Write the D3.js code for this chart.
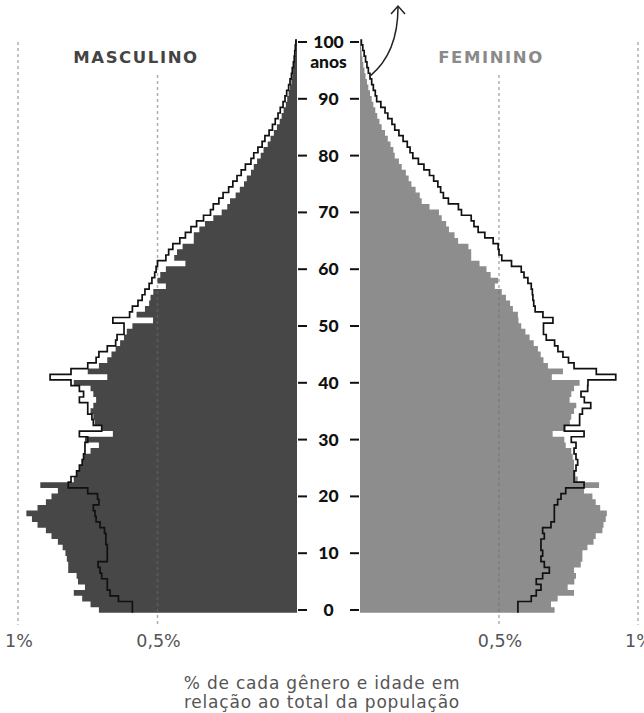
<!DOCTYPE html>
<html>
<head>
<meta charset="utf-8">
<script src="https://cdn.jsdelivr.net/npm/d3@7"></script>
<style>
  body { margin: 0; background: #fff; }
  svg { display: block; font-family: "DejaVu Sans", sans-serif; }
</style>
</head>
<body>
<div class="piramide"></div>
<script>
//Data: % of total population by single year of age (0..100)
const idades = d3.range(0, 101);

const homens = [
  0.71, 0.74, 0.77, 0.80, 0.76, 0.785, 0.79, 0.82, 0.82, 0.825,
  0.83, 0.84, 0.857, 0.88, 0.90, 0.93, 0.95, 0.97, 0.93, 0.90,
  0.88, 0.857, 0.92, 0.80, 0.79, 0.78, 0.77, 0.765, 0.74, 0.71,
  0.76, 0.66, 0.70, 0.725, 0.73, 0.74, 0.73, 0.72, 0.73, 0.74,
  0.80, 0.68, 0.75, 0.71, 0.68, 0.665, 0.65, 0.634, 0.62, 0.61,
  0.59, 0.516, 0.575, 0.545, 0.53, 0.525, 0.515, 0.47, 0.50, 0.49,
  0.47, 0.40, 0.44, 0.43, 0.41, 0.37, 0.37, 0.35, 0.33, 0.30,
  0.27, 0.25, 0.24, 0.22, 0.205, 0.19, 0.18, 0.165, 0.155, 0.143,
  0.13, 0.12, 0.105, 0.095, 0.083, 0.072, 0.062, 0.055, 0.048, 0.04,
  0.035, 0.03, 0.025, 0.02, 0.017, 0.014, 0.011, 0.008, 0.006, 0.004,
  0.003
];

const mulheres = [
  0.70, 0.687, 0.711, 0.77, 0.747, 0.771, 0.777, 0.77, 0.794, 0.80,
  0.80, 0.818, 0.84, 0.848, 0.872, 0.876, 0.884, 0.888, 0.864, 0.848,
  0.836, 0.806, 0.86, 0.783, 0.775, 0.77, 0.77, 0.765, 0.76, 0.74,
  0.735, 0.693, 0.74, 0.755, 0.76, 0.77, 0.778, 0.754, 0.76, 0.77,
  0.79, 0.69, 0.73, 0.676, 0.66, 0.65, 0.64, 0.625, 0.61, 0.595,
  0.58, 0.57, 0.568, 0.55, 0.54, 0.525, 0.51, 0.485, 0.497, 0.47,
  0.455, 0.43, 0.40, 0.40, 0.39, 0.353, 0.34, 0.32, 0.31, 0.294,
  0.284, 0.25, 0.222, 0.215, 0.20, 0.185, 0.175, 0.165, 0.15, 0.14,
  0.125, 0.12, 0.11, 0.10, 0.09, 0.078, 0.07, 0.062, 0.055, 0.048,
  0.042, 0.036, 0.03, 0.025, 0.02, 0.016, 0.012, 0.009, 0.006, 0.004,
  0.003
];

const homensContorno = [
  0.59, 0.59, 0.64, 0.67, 0.68, 0.68, 0.70, 0.706, 0.713, 0.68,
  0.68, 0.68, 0.685, 0.685, 0.69, 0.706, 0.72, 0.724, 0.73, 0.71,
  0.715, 0.75, 0.82, 0.81, 0.79, 0.78, 0.77, 0.765, 0.76, 0.76,
  0.75, 0.78, 0.70, 0.73, 0.735, 0.75, 0.75, 0.78, 0.765, 0.78,
  0.81, 0.885, 0.81, 0.75, 0.72, 0.71, 0.68, 0.65, 0.645, 0.62,
  0.62, 0.66, 0.60, 0.59, 0.57, 0.555, 0.545, 0.53, 0.52, 0.51,
  0.505, 0.50, 0.47, 0.46, 0.445, 0.42, 0.40, 0.38, 0.36, 0.335,
  0.31, 0.30, 0.28, 0.265, 0.245, 0.23, 0.215, 0.20, 0.185, 0.165,
  0.155, 0.14, 0.125, 0.115, 0.10, 0.088, 0.078, 0.068, 0.06, 0.05,
  0.043, 0.037, 0.03, 0.025, 0.02, 0.017, 0.013, 0.01, 0.008, 0.006,
  0.004
];

const mulheresContorno = [
  0.568, 0.568, 0.616, 0.634, 0.651, 0.634, 0.657, 0.681, 0.663, 0.651,
  0.657, 0.651, 0.651, 0.663, 0.657, 0.687, 0.699, 0.699, 0.699, 0.711,
  0.723, 0.74, 0.806, 0.77, 0.77, 0.777, 0.783, 0.777, 0.77, 0.777,
  0.76, 0.806, 0.735, 0.79, 0.79, 0.80, 0.83, 0.807, 0.795, 0.819,
  0.82, 0.92, 0.85, 0.77, 0.75, 0.73, 0.712, 0.70, 0.67, 0.66,
  0.66, 0.694, 0.658, 0.63, 0.625, 0.622, 0.62, 0.616, 0.604, 0.59,
  0.58, 0.545, 0.51, 0.50, 0.497, 0.479, 0.449, 0.425, 0.41, 0.40,
  0.365, 0.354, 0.318, 0.30, 0.29, 0.28, 0.265, 0.25, 0.23, 0.21,
  0.19, 0.18, 0.17, 0.155, 0.14, 0.125, 0.115, 0.10, 0.09, 0.075,
  0.06, 0.055, 0.048, 0.042, 0.036, 0.03, 0.025, 0.02, 0.015, 0.01,
  0.005
];

const idadeTicks = [0, 10, 20, 30, 40, 50, 60, 70, 80, 90, 100];
const pctTicks = [0.5, 1];
const pctLabels = ['0,5%', '1%'];

//Scales
const width = 644, height = 713;
const xM = d3.scaleLinear([0, 1], [297, 18]);
const xF = d3.scaleLinear([0, 1], [360, 638]);
const y = d3.scaleLinear([0, 100], [610, 42]);
const rowH = Math.abs(y(1) - y(0));

const svg = d3.select('.piramide')
  .append('svg')
  .attr('width', width)
  .attr('height', height);

//each age becomes a row: bottom and top edge with the same value
function rows(data){
  const pts = [];
  idades.forEach(a => {
    pts.push({v: data[a], py: y(a) + rowH / 2});
    pts.push({v: data[a], py: y(a) - rowH / 2});
  });
  return pts;
}

//Bars (one stepped shape per sex, so no seams between rows)
function drawBars(data, x, fill){
  const area = d3.area()
    .x0(x(0))
    .x1(d => x(d.v))
    .y(d => d.py);
  svg.append('path')
    .datum(rows(data))
    .attr('d', area)
    .style('fill', fill);
}
drawBars(homens, xM, '#474747');
drawBars(mulheres, xF, '#8d8d8d');

//Grid lines (on top of the bars, half transparent)
const grid = svg.append('g')
  .style('stroke', '#6e6e6e')
  .style('stroke-opacity', 0.55)
  .style('stroke-width', 1.5)
  .style('stroke-dasharray', '3,3');

[xM, xF].forEach(x => {
  grid.selectAll(null)
    .data(pctTicks)
    .enter()
    .append('line')
    .attr('x1', d => x(d))
    .attr('x2', d => x(d))
    .attr('y1', d => d === 1 ? y(100) : y(94.2))
    .attr('y2', y(-2.6));
});

//Outline (step line)
function drawOutline(data, x){
  svg.append('path')
    .datum(rows(data))
    .attr('d', d3.line().x(d => x(d.v)).y(d => d.py))
    .style('fill', 'none')
    .style('stroke', '#111')
    .style('stroke-width', 1.7)
    .style('stroke-linejoin', 'miter');
}
drawOutline(homensContorno, xM);
drawOutline(mulheresContorno, xF);

//Age axis in the middle
const cx = (xM(0) + xF(0)) / 2;
const eixo = svg.append('g')
  .attr('class', 'idades')
  .style('font-family', 'Lato, sans-serif');

eixo.selectAll('text')
  .data(idadeTicks)
  .enter()
  .append('text')
  .attr('x', cx)
  .attr('y', d => y(d) + 6)
  .attr('text-anchor', 'middle')
  .style('font-size', '17.5px')
  .style('font-weight', 900)
  .style('fill', '#111')
  .text(d => d);

eixo.append('text')
  .attr('x', cx)
  .attr('y', y(100) + 26)
  .attr('text-anchor', 'middle')
  .style('font-size', '17.5px')
  .style('font-weight', 900)
  .style('fill', '#111')
  .text('anos');

eixo.selectAll('.tl')
  .data(idadeTicks)
  .enter()
  .append('line')
  .attr('x1', xM(0) + 1)
  .attr('x2', xM(0) + 10)
  .attr('y1', d => y(d))
  .attr('y2', d => y(d))
  .style('stroke', '#111')
  .style('stroke-width', 2);

eixo.selectAll('.tr')
  .data(idadeTicks)
  .enter()
  .append('line')
  .attr('x1', xF(0) - 10)
  .attr('x2', xF(0) - 1)
  .attr('y1', d => y(d))
  .attr('y2', d => y(d))
  .style('stroke', '#111')
  .style('stroke-width', 2);

//Percent labels
[xM, xF].forEach(x => {
  svg.append('g')
    .selectAll('text')
    .data(pctTicks)
    .enter()
    .append('text')
    .attr('x', d => x(d) + 1)
    .attr('y', 647)
    .attr('text-anchor', 'middle')
    .style('font-size', '17.5px')
    .style('fill', '#555')
    .text((d, i) => pctLabels[i]);
});

//Headers
svg.append('text')
  .attr('x', 136).attr('y', 63)
  .attr('text-anchor', 'middle')
  .style('font-size', '16.5px')
  .style('font-weight', 'bold')
  .style('letter-spacing', '1.6px')
  .style('fill', '#444')
  .text('MASCULINO');

svg.append('text')
  .attr('x', 491).attr('y', 63)
  .attr('text-anchor', 'middle')
  .style('font-size', '16.5px')
  .style('font-weight', 'bold')
  .style('letter-spacing', '1.6px')
  .style('fill', '#8a8a8a')
  .text('FEMININO');

//Axis title
const titulo = svg.append('text')
  .attr('text-anchor', 'middle')
  .style('font-size', '17px')
  .style('letter-spacing', '0.8px')
  .style('fill', '#555');
titulo.append('tspan').attr('x', 322).attr('y', 689).text('% de cada gênero e idade em');
titulo.append('tspan').attr('x', 322).attr('y', 708).text('relação ao total da população');

//Arrow pointing up from the top of the outline
const ax = xF(mulheresContorno[94]), ay = y(94);
const seta = svg.append('g')
  .style('fill', 'none')
  .style('stroke', '#222')
  .style('stroke-width', 1.5);
seta.append('path')
  .attr('d', `M${ax},${ay} C${ax + 22},${ay - 18} ${ax + 28},${ay - 45} ${ax + 28},${ay - 69}`);
seta.append('path')
  .attr('d', `M${ax + 21},${ay - 62} L${ax + 28},${ay - 70} L${ax + 35},${ay - 62}`);
</script>
</body>
</html>
